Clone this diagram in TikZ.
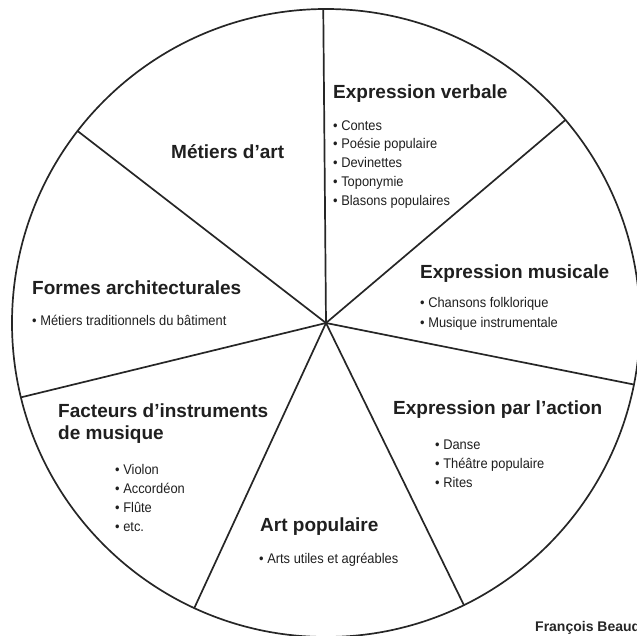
\documentclass[tikz,border=0pt]{standalone}
\usepackage{fontspec}
\setmainfont{Liberation Sans}
\newfontfamily\itemfont[FakeStretch=0.92]{Liberation Sans}
\begin{document}
\begin{tikzpicture}[x=1pt,y=-1pt,
  title/.style={anchor=base west,inner sep=0pt,font=\fontsize{19}{22}\selectfont\bfseries,text=black!88},
  item/.style={anchor=base west,inner sep=0pt,font=\itemfont\fontsize{14}{16}\selectfont,text=black!88},
  author/.style={anchor=base west,inner sep=0pt,font=\fontsize{14}{16}\selectfont\bfseries,text=black!85},
  wheel/.style={line width=1.7pt,draw=black!85}]
\useasboundingbox (0,0) rectangle (637,635);
\coordinate (c) at (326,323);
\draw[wheel] (c) circle[radius=314pt];
\foreach \a [count=\i] in {-90.5,-40.3,11.3,63.95,114.8,166.3,-142.3}{
  \path (c) ++(\a:314) coordinate (p\i);
  \draw[wheel,line cap=round] (c) -- (p\i);
}
% titles
\node[title] (tma) at (171,158) {Métiers d’art};
\node[title] (tev) at (333,98) {Expression verbale};
\node[title] (tem) at (420,278) {Expression musicale};
\node[title] (tea) at (393,414) {Expression par l’action};
\node[title] (tap) at (260,531) {Art populaire};
\node[title] (tfi1) at (58,417) {Facteurs d’instruments};
\node[title] (tfi2) at (58,439) {de musique};
\node[title] (tfa) at (32,294) {Formes architecturales};
% items
\foreach \t [count=\i] in {Contes,Poésie populaire,Devinettes,Toponymie,Blasons populaires}{
  \node[item] (ev\i) at (333,{130+(\i-1)*18.8}) {• \t};
}
\node[item] (em1) at (420,307.5) {• Chansons folklorique};
\node[item] (em2) at (420,327) {• Musique instrumentale};
\foreach \t [count=\i] in {Danse,Théâtre populaire,Rites}{
  \node[item] (ea\i) at (435,{449+(\i-1)*19.3}) {• \t};
}
\foreach \t [count=\i] in {Violon,Accordéon,Flûte,etc.}{
  \node[item] (fi\i) at (115,{474+(\i-1)*19.2}) {• \t};
}
\node[item] (ap1) at (259,563) {• Arts utiles et agréables};
\node[item] (fa1) at (32,325) {• Métiers traditionnels du bâtiment};
\node[author] (auth) at (535,631.7) {François Beaud};
\end{tikzpicture}
\end{document}
